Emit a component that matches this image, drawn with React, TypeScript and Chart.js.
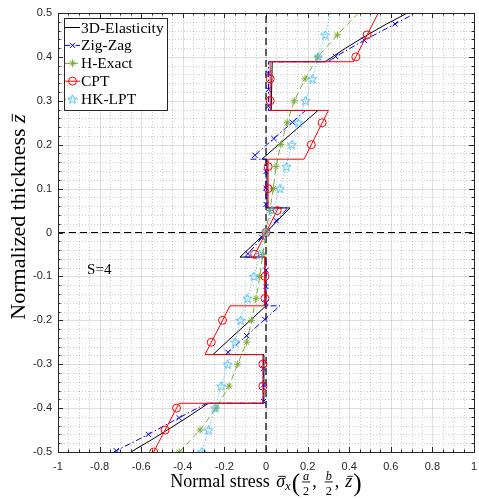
import React, { useEffect, useRef } from "react";
import { Chart, registerables } from "chart.js";
Chart.register(...registerables);

// ---------------- data ----------------
const seriesNames = ["3D-Elasticity", "Zig-Zag", "H-Exact", "CPT", "HK-LPT"];

const xTickValues = [-1, -0.8, -0.6, -0.4, -0.2, 0, 0.2, 0.4, 0.6, 0.8, 1];
const yTickValues = [-0.5, -0.4, -0.3, -0.2, -0.1, 0, 0.1, 0.2, 0.3, 0.4, 0.5];

// 3D-Elasticity (solid black)
const elasticityX = [-0.65, -0.56, -0.475, -0.375, -0.277, -0.01, -0.01, -0.255, 0.0, -0.005, -0.005, -0.125, 0, 0.115, 0.005, 0.005, -0.02, 0.25, 0.025, 0.03, 0.284, 0.383, 0.487, 0.58, 0.68];
const elasticityZ = [-0.5, -0.475, -0.45, -0.42, -0.389, -0.389, -0.278, -0.278, -0.167, -0.167, -0.056, -0.056, 0, 0.056, 0.056, 0.167, 0.167, 0.278, 0.278, 0.389, 0.389, 0.42, 0.45, 0.475, 0.5];

// Zig-Zag (blue dash-dot, x markers)
const zigZagLineX = [-0.732, -0.566, -0.418, -0.285, -0.012, -0.012, -0.195, 0.067, 0.0, 0.0, -0.1, 0.104, 0.0, 0.0, -0.075, 0.19, 0.012, 0.012, 0.298, 0.335, 0.473, 0.62, 0.72];
const zigZagLineZ = [-0.5, -0.46, -0.422, -0.389, -0.389, -0.278, -0.278, -0.167, -0.167, -0.056, -0.056, 0.056, 0.056, 0.167, 0.167, 0.278, 0.278, 0.389, 0.389, 0.401, 0.438, 0.475, 0.5];
const zigZagMarkX = [-0.72, -0.566, -0.418, -0.012, -0.012, -0.012, -0.183, -0.093, -0.006, 0.0, 0.0, 0.0, -0.087, -0.02, 0.049, 0.0, 0.0, 0.0, -0.053, 0.038, 0.127, 0.012, 0.012, 0.012, 0.335, 0.473, 0.62];
const zigZagMarkZ = [-0.497, -0.46, -0.422, -0.385, -0.347, -0.31, -0.273, -0.235, -0.198, -0.16, -0.123, -0.086, -0.048, -0.011, 0.027, 0.064, 0.101, 0.139, 0.176, 0.214, 0.251, 0.288, 0.326, 0.363, 0.401, 0.438, 0.475];

// H-Exact (green dashed, asterisk markers) - marker on every point but the last
const hExactZ = [-0.5, -0.45, -0.4, -0.35, -0.3, -0.25, -0.2, -0.15, -0.1, -0.05, 0, 0.05, 0.1, 0.15, 0.2, 0.25, 0.3, 0.35, 0.4, 0.45, 0.5];
const hExactX = [-0.417, -0.317, -0.24, -0.178, -0.136, -0.093, -0.07, -0.048, -0.03, -0.015, 0, 0.018, 0.035, 0.048, 0.071, 0.102, 0.136, 0.188, 0.248, 0.343, 0.445];

// CPT (red solid, circle markers)
const cptLineX = [-0.54, -0.418, -0.015, -0.015, -0.293, -0.173, -0.005, -0.005, -0.06, 0.06, 0.01, 0.01, 0.183, 0.3, 0.02, 0.02, 0.42, 0.54];
const cptLineZ = [-0.5, -0.389, -0.389, -0.278, -0.278, -0.167, -0.167, -0.056, -0.056, 0.056, 0.056, 0.167, 0.167, 0.278, 0.278, 0.389, 0.389, 0.5];
const cptMarkX = [-0.54, -0.485, -0.43, -0.015, -0.015, -0.263, -0.209, -0.005, -0.005, -0.054, 0, 0.054, 0.01, 0.01, 0.218, 0.27, 0.02, 0.02, 0.432, 0.486];
const cptMarkZ = [-0.5, -0.45, -0.4, -0.35, -0.3, -0.25, -0.2, -0.15, -0.1, -0.05, 0, 0.05, 0.1, 0.15, 0.2, 0.25, 0.3, 0.35, 0.4, 0.45];

// HK-LPT (light blue dotted, pentagram markers) - marker on every point but the last
const hkLptZ = [-0.5, -0.45, -0.4, -0.35, -0.3, -0.25, -0.2, -0.15, -0.1, -0.05, 0, 0.05, 0.1, 0.15, 0.2, 0.25, 0.3, 0.35, 0.4, 0.45, 0.5];
const hkLptX = [-0.309, -0.277, -0.245, -0.216, -0.184, -0.149, -0.122, -0.09, -0.058, -0.03, 0, 0.03, 0.067, 0.098, 0.124, 0.155, 0.19, 0.223, 0.251, 0.284, 0.31];

// reference lines
const zeroLineX = [0, 0];
const zeroLineZ = [-0.5, 0.5];
const zeroHLineX = [-1, 1];
const zeroHLineZ = [0, 0];

const annotationText = "S=4";
const annotationX = -0.86;
const annotationZ = -0.085;

// ---------------- styles ----------------
const C_BLACK = "#000000";
const C_BLUE = "#0000FF";
const C_GREEN = "#77AC30";
const C_RED = "#FF0000";
const C_LBLUE = "#4DBEEE";
const AXIS = "#262626";
const SERIF = '"Liberation Serif", "Times New Roman", serif';
const SANS = '"Liberation Sans", Arial, sans-serif';

function makePentagram(color: string, r: number) {
  const size = Math.ceil(r * 2 + 3);
  const c = document.createElement("canvas");
  c.width = size;
  c.height = size;
  const g = c.getContext("2d")!;
  const cx = size / 2, cy = size / 2 + 0.3;
  g.beginPath();
  for (let i = 0; i < 10; i++) {
    const rad = i % 2 === 0 ? r : r * 0.42;
    const a = -Math.PI / 2 + (i * Math.PI) / 5;
    const px = cx + rad * Math.cos(a), py = cy + rad * Math.sin(a);
    if (i === 0) g.moveTo(px, py); else g.lineTo(px, py);
  }
  g.closePath();
  g.strokeStyle = color;
  g.lineWidth = 1;
  g.stroke();
  return c;
}

function drawMarker(ctx: CanvasRenderingContext2D, type: string, x: number, y: number, color: string, img?: HTMLCanvasElement) {
  ctx.save();
  ctx.setLineDash([]);
  ctx.strokeStyle = color;
  ctx.lineWidth = 1;
  ctx.beginPath();
  if (type === "cross") {
    const h = 2.6;
    ctx.moveTo(x - h, y - h); ctx.lineTo(x + h, y + h);
    ctx.moveTo(x - h, y + h); ctx.lineTo(x + h, y - h);
    ctx.stroke();
  } else if (type === "asterisk") {
    const r = 3.6, d = r * Math.SQRT1_2;
    ctx.moveTo(x - r, y); ctx.lineTo(x + r, y);
    ctx.moveTo(x, y - r); ctx.lineTo(x, y + r);
    ctx.moveTo(x - d, y - d); ctx.lineTo(x + d, y + d);
    ctx.moveTo(x - d, y + d); ctx.lineTo(x + d, y - d);
    ctx.stroke();
  } else if (type === "circle") {
    ctx.arc(x, y, 4, 0, Math.PI * 2);
    ctx.stroke();
  } else if (type === "star" && img) {
    ctx.drawImage(img, x - img.width / 2, y - img.height / 2);
  }
  ctx.restore();
}

export default function App() {
  const ref = useRef<HTMLCanvasElement>(null);

  useEffect(() => {
    const canvas = ref.current!;
    const starImg = makePentagram(C_LBLUE, 4.8);
    const pts = (xs: number[], zs: number[]) => xs.map((v, i) => ({ x: v, y: zs[i] }));

    const lineDs = (label: string, xs: number[], zs: number[], color: string, dash: number[], order: number, width = 1) => ({
      label, data: pts(xs, zs), showLine: true, borderColor: color, borderWidth: width, borderDash: dash,
      pointRadius: 0, pointHoverRadius: 0, fill: false, tension: 0, order,
    });
    const markDs = (label: string, xs: number[], zs: number[], color: string, style: any, radius: number, order: number) => ({
      label, data: pts(xs, zs), showLine: false, pointStyle: style, pointRadius: radius, pointHoverRadius: radius,
      pointBorderColor: color, pointBackgroundColor: "rgba(0,0,0,0)", pointBorderWidth: 1, order,
    });

    const datasets: any[] = [
      lineDs("zero-v", zeroLineX, zeroLineZ, C_BLACK, [7, 4], 100, 1.2),
      lineDs("zero-h", zeroHLineX, zeroHLineZ, C_BLACK, [7, 4], 100, 1.2),
      lineDs(seriesNames[0], elasticityX, elasticityZ, C_BLACK, [], 50),
      lineDs(seriesNames[1], zigZagLineX, zigZagLineZ, C_BLUE, [6, 2.5, 1.5, 2.5], 48),
      markDs(seriesNames[1], zigZagMarkX, zigZagMarkZ, C_BLUE, "crossRot", 3.7, 47),
      lineDs(seriesNames[2], hExactX, hExactZ, C_GREEN, [6, 4], 46),
      markDs(seriesNames[2], hExactX.slice(0, -1), hExactZ.slice(0, -1), C_GREEN, "star", 3.6, 45),
      lineDs(seriesNames[3], cptLineX, cptLineZ, C_RED, [], 44),
      markDs(seriesNames[3], cptMarkX, cptMarkZ, C_RED, "circle", 4, 43),
      lineDs(seriesNames[4], hkLptX, hkLptZ, C_LBLUE, [1, 2], 42),
      markDs(seriesNames[4], hkLptX.slice(0, -1), hkLptZ.slice(0, -1), C_LBLUE, starImg, 4, 41),
    ];

    const legendItems = [
      { name: seriesNames[0], color: C_BLACK, dash: [] as number[], marker: "" },
      { name: seriesNames[1], color: C_BLUE, dash: [5, 2, 1.5, 2], marker: "cross" },
      { name: seriesNames[2], color: C_GREEN, dash: [5, 3], marker: "asterisk" },
      { name: seriesNames[3], color: C_RED, dash: [], marker: "circle" },
      { name: seriesNames[4], color: C_LBLUE, dash: [1, 2], marker: "star" },
    ];

    const axesPlugin = {
      id: "matlabAxes",
      beforeDatasetsDraw(chart: any) {
        const { ctx, chartArea: a, scales } = chart;
        const xs = scales.x, ys = scales.y;
        ctx.save();
        ctx.lineWidth = 1;
        ctx.strokeStyle = "rgba(38,38,38,0.22)";
        ctx.setLineDash([1, 2]);
        ctx.beginPath();
        for (let i = 0; i <= 40; i++) {
          if (i % 4 === 0) continue;
          const px = Math.round(xs.getPixelForValue(-1 + i * 0.05)) + 0.5;
          ctx.moveTo(px, a.top); ctx.lineTo(px, a.bottom);
        }
        for (let i = 0; i <= 50; i++) {
          if (i % 5 === 0) continue;
          const py = Math.round(ys.getPixelForValue(-0.5 + i * 0.02)) + 0.5;
          ctx.moveTo(a.left, py); ctx.lineTo(a.right, py);
        }
        ctx.stroke();
        ctx.setLineDash([]);
        ctx.strokeStyle = "rgba(38,38,38,0.15)";
        ctx.beginPath();
        xTickValues.forEach((v) => {
          const px = Math.round(xs.getPixelForValue(v)) + 0.5;
          ctx.moveTo(px, a.top); ctx.lineTo(px, a.bottom);
        });
        yTickValues.forEach((v) => {
          const py = Math.round(ys.getPixelForValue(v)) + 0.5;
          ctx.moveTo(a.left, py); ctx.lineTo(a.right, py);
        });
        ctx.stroke();
        ctx.restore();
      },
      afterDatasetsDraw(chart: any) {
        const { ctx, chartArea: a, scales } = chart;
        const xs = scales.x, ys = scales.y;
        ctx.save();
        ctx.strokeStyle = AXIS;
        ctx.lineWidth = 1;
        ctx.setLineDash([]);
        ctx.beginPath();
        for (let i = 0; i <= 40; i++) {
          const L = i % 4 === 0 ? 5 : 2.5;
          const px = Math.round(xs.getPixelForValue(-1 + i * 0.05)) + 0.5;
          ctx.moveTo(px, a.bottom); ctx.lineTo(px, a.bottom - L);
          ctx.moveTo(px, a.top); ctx.lineTo(px, a.top + L);
        }
        for (let i = 0; i <= 50; i++) {
          const L = i % 5 === 0 ? 5 : 2.5;
          const py = Math.round(ys.getPixelForValue(-0.5 + i * 0.02)) + 0.5;
          ctx.moveTo(a.left, py); ctx.lineTo(a.left + L, py);
          ctx.moveTo(a.right, py); ctx.lineTo(a.right - L, py);
        }
        ctx.stroke();
        ctx.strokeRect(Math.round(a.left) + 0.5, Math.round(a.top) + 0.5, Math.round(a.right - a.left), Math.round(a.bottom - a.top));
        ctx.restore();
      },
      afterDraw(chart: any) {
        const { ctx, scales } = chart;
        const xs = scales.x, ys = scales.y;
        ctx.save();
        // ---- legend ----
        const bx = 64.5, by = 18.5, bw = 103, bh = 92;
        ctx.fillStyle = "#ffffff";
        ctx.fillRect(bx, by, bw, bh);
        ctx.strokeStyle = AXIS;
        ctx.lineWidth = 1;
        ctx.strokeRect(bx, by, bw, bh);
        legendItems.forEach((it, i) => {
          const cy = 27.5 + i * 17.9;
          ctx.save();
          ctx.strokeStyle = it.color;
          ctx.lineWidth = 1;
          ctx.setLineDash(it.dash);
          ctx.beginPath();
          ctx.moveTo(65, cy); ctx.lineTo(80, cy);
          ctx.stroke();
          ctx.restore();
          if (it.marker) drawMarker(ctx, it.marker, 72.5, cy, it.color, starImg);
          ctx.fillStyle = "#000";
          ctx.font = `15.5px ${SERIF}`;
          ctx.textBaseline = "middle";
          ctx.textAlign = "left";
          ctx.fillText(it.name, 81, cy + 1);
        });
        // ---- annotation ----
        ctx.fillStyle = "#000";
        ctx.font = `15px ${SERIF}`;
        ctx.textBaseline = "middle";
        ctx.textAlign = "left";
        ctx.fillText(annotationText, xs.getPixelForValue(annotationX), ys.getPixelForValue(annotationZ));

        // ---- y title ----
        ctx.save();
        ctx.translate(25, 217);
        ctx.rotate(-Math.PI / 2);
        const yF = 22;
        const yPart1 = "Normalized thickness ";
        const yPart2 = "z";
        ctx.font = `${yF}px ${SERIF}`;
        const w1 = ctx.measureText(yPart1).width;
        ctx.font = `italic ${yF}px ${SERIF}`;
        const w2 = ctx.measureText(yPart2).width;
        const sx = -(w1 + w2) / 2;
        ctx.textBaseline = "alphabetic";
        ctx.font = `${yF}px ${SERIF}`;
        ctx.fillText(yPart1, sx, 0);
        ctx.font = `italic ${yF}px ${SERIF}`;
        ctx.fillText(yPart2, sx + w1, 0);
        ctx.fillRect(sx + w1 + 1.5, -yF * 0.6, w2 - 1, 1);
        ctx.restore();

        // ---- x title ----
        const F = 18;
        const base = 487;
        const roman = `${F}px ${SERIF}`;
        const ital = `italic ${F}px ${SERIF}`;
        const smallI = `italic ${F * 0.68}px ${SERIF}`;
        const smallR = `${F * 0.68}px ${SERIF}`;
        const paren = `${F * 1.4}px ${SERIF}`;
        type Piece = { t?: string; f?: string; dy?: number; frac?: [string, string]; bar?: boolean; pad?: number };
        const pieces: Piece[] = [
          { t: "Normal stress ", f: roman, pad: 2 },
          { t: "\u03C3", f: ital, bar: true },
          { t: "x", f: smallI, dy: 3, pad: 1 },
          { t: "(", f: paren, dy: 4 },
          { frac: ["a", "2"] },
          { t: ",", f: roman, pad: 6 },
          { frac: ["b", "2"] },
          { t: ",", f: roman, pad: 6 },
          { t: "z", f: ital, bar: true, pad: 1 },
          { t: ")", f: paren, dy: 4 },
        ];
        const widthOf = (p: Piece) => {
          if (p.frac) {
            ctx.font = smallI;
            const a1 = ctx.measureText(p.frac[0]).width;
            ctx.font = smallR;
            const a2 = ctx.measureText(p.frac[1]).width;
            return Math.max(a1, a2) + 6;
          }
          ctx.font = p.f!;
          return ctx.measureText(p.t!).width + (p.pad || 0);
        };
        const total = pieces.reduce((s, p) => s + widthOf(p), 0);
        let px = xs.getPixelForValue(0) - total / 2;
        ctx.textBaseline = "alphabetic";
        ctx.textAlign = "left";
        ctx.fillStyle = "#000";
        pieces.forEach((p) => {
          const w = widthOf(p);
          if (p.frac) {
            const cx = px + w / 2;
            ctx.textAlign = "center";
            ctx.font = smallI;
            ctx.fillText(p.frac[0], cx, base - 7.5);
            ctx.font = smallR;
            ctx.fillText(p.frac[1], cx, base + 7.5);
            ctx.fillRect(px + 2, base - 5.5, w - 4, 0.9);
            ctx.textAlign = "left";
          } else {
            ctx.font = p.f!;
            ctx.fillText(p.t!, px, base + (p.dy || 0));
            if (p.bar) ctx.fillRect(px + 2, base - F * 0.62, w - (p.pad || 0) - 1.5, 0.9);
          }
          px += w;
        });
        ctx.restore();
      },
    };

    const chart = new Chart(canvas, {
      type: "scatter",
      data: { datasets },
      options: {
        animation: false,
        responsive: false,
        devicePixelRatio: 1,
        events: [],
        layout: { padding: { left: 0, right: 5, top: 13, bottom: 0 } },
        plugins: { legend: { display: false }, tooltip: { enabled: false } },
        scales: {
          x: {
            type: "linear",
            min: -1,
            max: 1,
            afterBuildTicks: (s: any) => { s.ticks = xTickValues.map((v) => ({ value: v })); },
            afterFit: (s: any) => { s.height = 47; s.paddingLeft = 0; s.paddingRight = 0; },
            grid: { display: false, drawTicks: false },
            border: { display: false },
            ticks: {
              padding: 8, color: AXIS, autoSkip: false, maxRotation: 0,
              font: { family: SANS, size: 11 },
              callback: (v: any) => String(v),
            },
          },
          y: {
            type: "linear",
            min: -0.5,
            max: 0.5,
            afterBuildTicks: (s: any) => { s.ticks = yTickValues.map((v) => ({ value: v })); },
            afterFit: (s: any) => { s.width = 58; s.paddingTop = 0; s.paddingBottom = 0; },
            grid: { display: false, drawTicks: false },
            border: { display: false },
            ticks: {
              padding: 6, color: AXIS, autoSkip: false,
              font: { family: SANS, size: 11 },
              callback: (v: any) => String(v),
            },
          },
        },
      } as any,
      plugins: [axesPlugin],
    });
    return () => chart.destroy();
  }, []);

  return (
    <div style={{ position: "absolute", left: 0, top: 0, width: 479, height: 499, background: "#fff" }}>
      <canvas ref={ref} width={479} height={499} style={{ display: "block", width: 479, height: 499 }} />
    </div>
  );
}
